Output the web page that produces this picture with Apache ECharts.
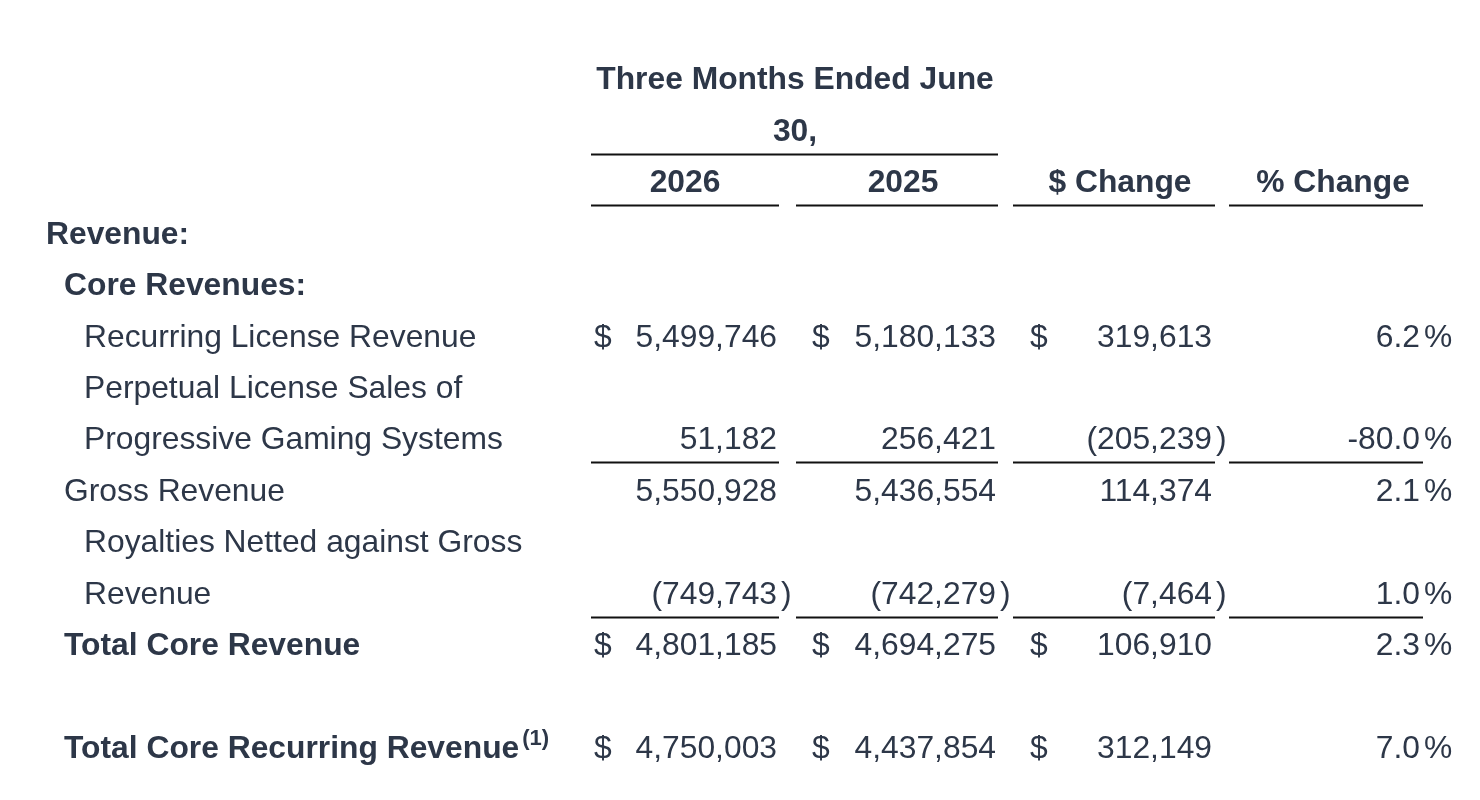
<html>
<head>
    <meta charset="utf-8">
    <title>Core Revenue - Three Months Ended June 30</title>
    <script src="https://cdn.jsdelivr.net/npm/echarts@6/dist/echarts.min.js" type="text/javascript"></script>
    <style>
        html, body { margin: 0; padding: 0; background: #fff; }
    </style>
</head>
<body>
<div id="main" style="width: 1480px;height:800px;"></div>
<script type="text/javascript">
    // table data
    var periodTitle = ['Three Months Ended June', '30,'];
    var columnHeaders = ['2026', '2025', '$ Change', '% Change'];
    var sectionLabels = ['Revenue:', 'Core Revenues:'];
    var rowLabels = [
        'Recurring License Revenue',
        'Perpetual License Sales of\nProgressive Gaming Systems',
        'Gross Revenue',
        'Royalties Netted against Gross\nRevenue',
        'Total Core Revenue',
        'Total Core Recurring Revenue'
    ];
    var rowNotes = ['', '', '', '', '', '(1)'];
    var values2026 = [5499746, 51182, 5550928, -749743, 4801185, 4750003];
    var values2025 = [5180133, 256421, 5436554, -742279, 4694275, 4437854];
    var dollarChange = [319613, -205239, 114374, -7464, 106910, 312149];
    var pctChange = [6.2, -80.0, 2.1, 1.0, 2.3, 7.0];

    // row styling
    var rowIndent = [2, 2, 1, 2, 1, 1];
    var rowBold = [false, false, false, false, true, true];
    var rowDollar = [true, false, false, false, true, true];
    var rowRuleAfter = [false, true, false, true, false, false];
    var rowGapBefore = [0, 0, 0, 0, 0, 1];

    // column layout (pixels on the hidden x axis)
    var indentX = [46, 64, 84];
    var colRule = [[591, 779], [796, 998], [1013, 1215], [1229, 1423]];
    var colDollarX = [594, 812, 1030];
    var colRightX = [777, 996, 1212, 1420];
    var headerCenterX = [685, 903, 1120, 1333];
    var titleCenterX = 795;
    var titleRule = [591, 998];

    var textColor = '#2d3748';
    var ruleColor = '#111111';
    var fontFamily = '"Liberation Sans", Arial, Helvetica, sans-serif';
    var fontSize = 31.8;

    function fmt(v) {
        return String(Math.abs(v)).replace(/\B(?=(\d{3})+(?!\d))/g, ',');
    }

    function font(bold, size) {
        return (bold ? 'bold ' : '') + (size || fontSize) + 'px ' + fontFamily;
    }

    // build table lines, one per slot on the y axis
    var tableLines = [];
    periodTitle.forEach(function (t, i) {
        tableLines.push({
            cells: [{text: t, x: titleCenterX, align: 'center', bold: true}],
            rules: i === periodTitle.length - 1 ? [titleRule] : []
        });
    });
    tableLines.push({
        cells: columnHeaders.map(function (h, i) {
            return {text: h, x: headerCenterX[i], align: 'center', bold: true};
        }),
        rules: colRule
    });
    sectionLabels.forEach(function (s, i) {
        tableLines.push({cells: [{text: s, x: indentX[i], align: 'left', bold: true}], rules: []});
    });

    rowLabels.forEach(function (label, r) {
        for (var g = 0; g < rowGapBefore[r]; g++) {
            tableLines.push({cells: [], rules: []});
        }
        var parts = label.split('\n');
        parts.forEach(function (p, k) {
            var line = {cells: [], rules: []};
            var last = k === parts.length - 1;
            var labelCell = {text: p, x: indentX[rowIndent[r]], align: 'left', bold: rowBold[r]};
            if (last && rowNotes[r]) {
                labelCell.note = rowNotes[r];
            }
            line.cells.push(labelCell);
            if (last) {
                [values2026[r], values2025[r], dollarChange[r]].forEach(function (v, c) {
                    if (rowDollar[r]) {
                        line.cells.push({text: '$', x: colDollarX[c], align: 'left'});
                    }
                    line.cells.push({text: (v < 0 ? '(' : '') + fmt(v), x: colRightX[c], align: 'right'});
                    if (v < 0) {
                        line.cells.push({text: ')', x: colRightX[c] + 4, align: 'left'});
                    }
                });
                line.cells.push({text: pctChange[r].toFixed(1), x: colRightX[3], align: 'right'});
                line.cells.push({text: '%', x: colRightX[3] + 4, align: 'left'});
                if (rowRuleAfter[r]) {
                    line.rules = colRule;
                }
            }
            tableLines.push(line);
        });
    });

    var slotNames = tableLines.map(function (l, i) { return 'L' + i; });
    var slotData = tableLines.map(function (l, i) { return [0, i]; });

    var myChart = echarts.init(document.getElementById('main'));

    myChart.setOption({
        animation: false,
        backgroundColor: '#ffffff',
        grid: {left: 0, right: 0, top: 55, height: 51.42 * tableLines.length},
        xAxis: {type: 'value', min: 0, max: 1480, show: false},
        yAxis: {type: 'category', data: slotNames, inverse: true, show: false},
        series: [{
            type: 'custom',
            clip: false,
            data: slotData,
            renderItem: function (params, api) {
                var line = tableLines[params.dataIndex];
                var slot = api.value(1);
                var y = api.coord([0, slot])[1];
                var band = api.size([0, 1])[1];
                var px = function (v) { return api.coord([v, slot])[0]; };
                var children = [];
                line.cells.forEach(function (c) {
                    var style = {
                        x: px(c.x),
                        y: y,
                        fill: textColor,
                        font: font(c.bold),
                        align: c.align,
                        textAlign: c.align,
                        verticalAlign: 'middle',
                        textVerticalAlign: 'middle'
                    };
                    if (c.note) {
                        // footnote marker raised to the top of a taller line box
                        style.text = '{m|' + c.text + '}{s|' + c.note + '}';
                        style.rich = {
                            m: {font: font(c.bold), fill: textColor, verticalAlign: 'middle', lineHeight: 42},
                            s: {font: font(c.bold, 22), fill: textColor, verticalAlign: 'top', padding: [0, 0, 0, 3]}
                        };
                    } else {
                        style.text = c.text;
                    }
                    children.push({type: 'text', style: style});
                });
                line.rules.forEach(function (rl) {
                    var ry = Math.round(y + band / 2 - 4) + 0.5;
                    children.push({
                        type: 'line',
                        shape: {x1: px(rl[0]), y1: ry, x2: px(rl[1]), y2: ry},
                        style: {stroke: ruleColor, lineWidth: 2}
                    });
                });
                return {type: 'group', children: children};
            }
        }]
    });
</script>
</body>
</html>
